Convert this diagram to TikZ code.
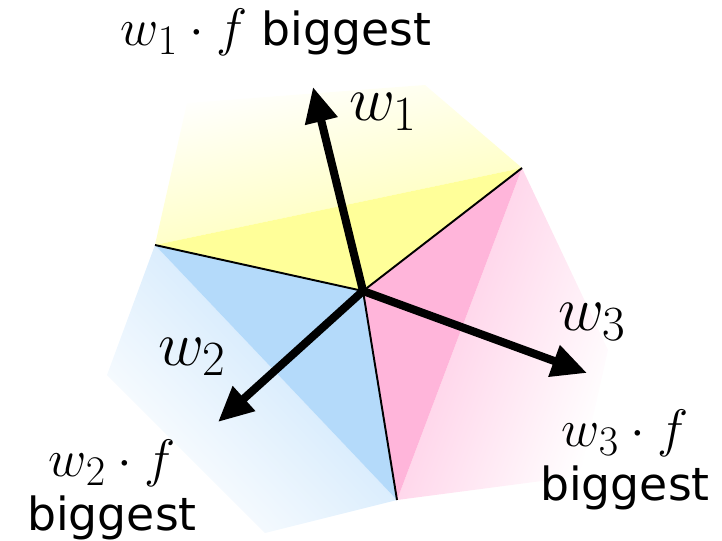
\RequirePackage{fix-cm}
\documentclass[tikz,border=0pt]{standalone}
\usepackage{fontspec}
\setmainfont{DejaVu Sans}
\usetikzlibrary{arrows.meta}

\DeclareMathSizes{36}{36}{28}{21}
\DeclareMathSizes{30}{30}{24}{18}
\newcommand{\wf}[1]{{\fontsize{30}{31}\selectfont$w_{#1}\cdot f$}}

\begin{document}
\begin{tikzpicture}[x=0.02cm, y=-0.02cm,
  bordo/.style={black, line width=1.1pt},
  freccia/.style={line width=4.6pt, -{Triangle[length=20pt,width=18pt]}},
  etichetta/.style={font=\fontsize{26}{31}\selectfont, inner sep=0pt},
  vettore/.style={font=\fontsize{36}{40}\selectfont, inner sep=0pt}]

% Colori pastello
\definecolor{colGiallo}{HTML}{FFFF99}
\definecolor{colBlu}{HTML}{B4DAFA}
\definecolor{colRosa}{HTML}{FFB5DA}

\useasboundingbox (0,0) rectangle (722,540);

% Centro e vertici dei settori
\coordinate (C) at (363,291);
\coordinate (A) at (155,245);
\coordinate (B) at (522,168);
\coordinate (D) at (397,500);

% Zone sfumate esterne
\shade[top color=white, middle color=colGiallo!28, bottom color=colGiallo!75, shading angle=12]
  (A) -- (187,103) -- (425,85) -- (B) -- cycle;
\shade[top color=white, middle color=colBlu!30, bottom color=colBlu!80, shading angle=133.5]
  (A) -- (107,375) -- (265,533) -- (D) -- cycle;
\shade[top color=white, middle color=colRosa!30, bottom color=colRosa!80, shading angle=-110.6]
  (B) -- (608,350) -- (580,476) -- (D) -- cycle;

% Settori interni
\fill[colGiallo] (C) -- (A) -- (B) -- cycle;
\fill[colBlu] (C) -- (A) -- (D) -- cycle;
\fill[colRosa] (C) -- (B) -- (D) -- cycle;

% Confini
\draw[bordo] (C) -- (A);
\draw[bordo] (C) -- (B);
\draw[bordo] (C) -- (D);

% Vettori
\coordinate (p1) at (313,87);
\coordinate (p2) at (218,422);
\coordinate (p3) at (587,373);
\draw[freccia] (C) -- (p1);
\draw[freccia] (C) -- (p2);
\draw[freccia] (C) -- (p3);

\node[vettore] (lw1) at (383,112) {$w_1$};
\node[vettore] (lw2) at (192,357) {$w_2$};
\node[vettore] (lw3) at (592,322) {$w_3$};

% Etichette esterne
\node[etichetta] (titolo) at (276,32) {\wf{1} biggest};
\node[etichetta, align=center] (sx) at (112,490) {\wf{2}\\biggest};
\node[etichetta, align=center] (dx) at (625,460) {\wf{3}\\biggest};

\end{tikzpicture}
\end{document}
